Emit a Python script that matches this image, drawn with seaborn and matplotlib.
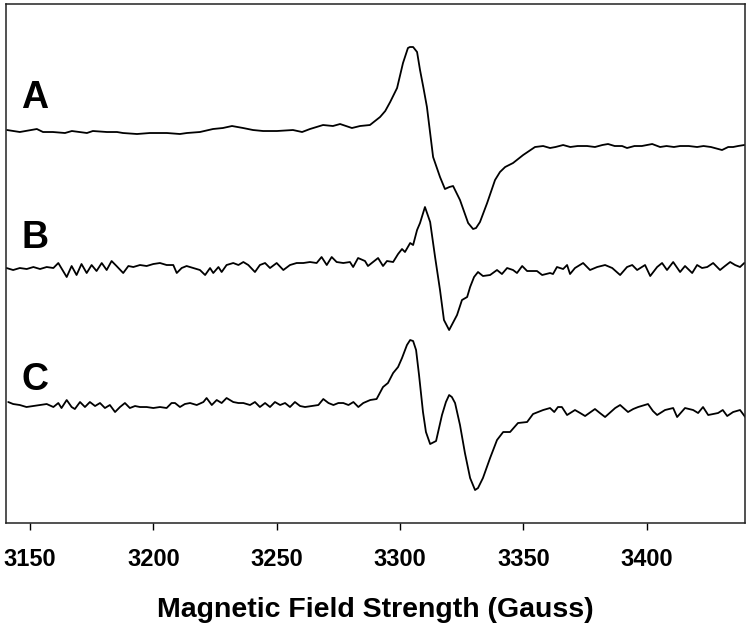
import matplotlib
matplotlib.use('Agg')
import matplotlib.pyplot as plt
import seaborn as sns
import pandas as pd

# EPR spectra: field (G) and signal (arbitrary units, 0 = own baseline)
field_a = [3140.7, 3145.9, 3152.8, 3155.3, 3159.3, 3164.2, 3167.0, 3173.1, 3175.5, 3181.2,
           3185.3, 3187.7, 3193.4, 3198.6, 3205.5, 3210.8, 3213.6, 3218.9, 3224.2, 3228.2,
           3231.9, 3236.4, 3240.4, 3244.5, 3250.1, 3256.6, 3260.3, 3263.5, 3268.8, 3272.8,
           3275.7, 3280.5, 3283.8, 3287.8, 3291.9, 3294.0, 3296.0, 3298.8, 3301.2, 3303.2,
           3304.0, 3305.3, 3306.9, 3308.1, 3309.5, 3310.9, 3313.4, 3316.2, 3318.2, 3320.0,
           3321.5, 3324.3, 3327.6, 3329.6, 3330.8, 3332.4, 3335.3, 3338.5, 3340.5, 3342.6,
           3345.8, 3349.9, 3354.7, 3358.0, 3360.8, 3363.0, 3366.1,
           3369.0, 3372.0, 3375.8, 3379.0, 3382.0, 3384.3, 3387.0, 3390.0, 3392.0, 3395.0,
           3398.0, 3402.2, 3405.4, 3408.0, 3411.0, 3413.5, 3417.0, 3420.4, 3423.0, 3426.0,
           3430.5, 3433.0, 3435.0, 3437.0, 3439.5]
signal_a = [0, -2, 1, -2, -2, -3, -1, -3, -1, -2,
            -2, -3, -4, -3, -3, -4, -3, -2, 1, 2,
            4, 2, 0, -1, -1, 0, -2, 1, 5, 4,
            6, 2, 4, 5, 13, 19, 28, 42, 67, 82,
            83, 83, 78, 60, 42, 23, -27, -47, -59, -57,
            -56, -70, -93, -99, -98, -92, -73, -50, -42, -37,
            -33, -25, -17, -16, -18, -17, -15,
            -17, -16, -16, -17, -15, -14, -16, -16, -18, -16,
            -16, -14, -17, -16, -17, -16, -16, -17, -16, -17,
            -20, -17, -17, -16, -15]

field_b = [3140.5, 3143.2, 3145.9, 3148.7, 3151.4, 3154.1, 3156.8, 3159.5, 3161.5, 3164.9,
           3166.9, 3168.9, 3170.9, 3173.0, 3175.0, 3177.0, 3179.1, 3181.1, 3183.1, 3185.1,
           3187.8, 3189.9, 3191.9, 3194.6, 3197.3, 3200.0, 3202.7, 3205.4, 3208.1, 3209.5,
           3211.5, 3213.5, 3216.2, 3218.9, 3221.0, 3223.0, 3224.3, 3226.4, 3227.7, 3229.7,
           3232.4, 3234.5, 3236.5, 3238.5, 3241.2, 3243.2, 3245.3, 3247.3, 3250.0, 3252.7,
           3255.4, 3258.1, 3260.8, 3263.5, 3266.2, 3268.2, 3270.3, 3272.3, 3274.3, 3277.0,
           3279.7, 3281.0, 3283.0, 3285.8, 3287.0, 3291.1, 3293.1, 3294.7, 3297.2, 3299.2,
           3300.8, 3302.0, 3304.1, 3305.3, 3306.9, 3308.1, 3310.1, 3312.2, 3314.2, 3316.2,
           3317.8, 3319.9, 3323.1, 3325.1, 3327.2, 3328.4, 3330.0, 3331.6, 3333.6, 3336.5,
           3339.3, 3341.3, 3343.4, 3345.8, 3347.4, 3349.5, 3351.5, 3355.5, 3357.6, 3360.8,
           3362.0, 3363.6, 3366.1, 3367.7, 3368.9, 3370.9, 3374.2, 3377.0, 3379.9, 3383.1,
           3386.0, 3389.2, 3392.0, 3394.1, 3396.1, 3399.3, 3401.4, 3404.2, 3406.2, 3408.2,
           3410.7, 3413.5, 3415.5, 3418.4, 3420.4, 3422.4, 3424.5, 3426.9, 3429.7, 3431.7,
           3433.8, 3435.8, 3437.8, 3439.5]
signal_b = [0, -2, 0, -1, 1, -1, 1, 0, 5, -9,
            2, -7, 4, -5, 3, -3, 5, -2, 7, 2,
            -5, 2, 1, 3, 2, 4, 5, 3, 3, -5,
            0, 2, 0, -2, -7, 0, -5, 1, -4, 3,
            5, 3, 6, 3, -4, 3, 5, 0, 5, -2,
            3, 5, 5, 6, 5, 11, 3, 11, 6, 5,
            6, 1, 10, 7, 2, 10, 2, 7, 6, 14,
            19, 16, 25, 23, 38, 45, 61, 46, 11, -22,
            -52, -62, -47, -32, -29, -19, -9, -4, -8, -7,
            -2, -6, 0, -2, -5, 2, -3, -3, -7, -5,
            -6, 1, -1, 3, -6, 0, 5, -2, 1, 3,
            0, -7, 1, 3, -2, 3, -8, 1, 5, -2,
            6, -4, 2, -5, 3, 0, 1, 5, -2, 2,
            6, 3, 1, 5]

field_c = [3141.2, 3143.2, 3145.9, 3148.6, 3151.4, 3154.1, 3156.8, 3159.5, 3161.5, 3162.8,
           3164.9, 3166.9, 3168.2, 3170.3, 3172.3, 3174.3, 3176.4, 3178.4, 3180.4, 3182.4,
           3184.5, 3186.5, 3188.5, 3190.5, 3192.6, 3194.6, 3197.3, 3200.0, 3202.7, 3205.4,
           3207.4, 3208.8, 3210.8, 3212.8, 3214.9, 3217.6, 3220.3, 3221.6, 3223.7, 3225.7,
           3227.7, 3229.7, 3232.4, 3234.5, 3236.5, 3239.2, 3241.2, 3243.2, 3245.3, 3247.3,
           3249.3, 3251.4, 3253.4, 3255.4, 3257.4, 3259.5, 3261.5, 3264.2, 3266.9, 3268.9,
           3271.0, 3273.0, 3275.0, 3277.0, 3279.1, 3281.1, 3283.1, 3285.1, 3287.9, 3290.5,
           3293.1, 3295.1, 3297.2, 3299.2, 3300.8, 3302.8, 3304.1, 3305.3, 3306.5, 3307.7,
           3309.3, 3310.5, 3312.2, 3314.6, 3317.0, 3318.6, 3319.9, 3321.0, 3322.3, 3324.3,
           3326.3, 3328.4, 3330.4, 3331.6, 3333.6, 3336.5, 3339.3, 3341.8, 3344.6, 3347.8,
           3351.5, 3353.9, 3358.0, 3360.8, 3362.5, 3364.0, 3365.6, 3367.7, 3370.9, 3373.0,
           3375.0, 3379.0, 3381.0, 3383.1, 3387.2, 3389.2, 3392.4, 3394.5, 3396.5, 3400.5,
           3402.5, 3404.2, 3407.4, 3410.7, 3412.3, 3415.5, 3418.8, 3420.8, 3422.8, 3424.9,
           3428.9, 3430.8, 3432.6, 3435.0, 3437.8, 3439.9]
signal_c = [6, 4, 3, 1, 2, 3, 4, 1, 5, 0,
            8, 1, -1, 6, 1, 6, 2, 5, 0, 3,
            -4, 1, 5, 0, 2, 1, 1, 0, 1, 0,
            5, 5, 1, 4, 5, 3, 6, 10, 3, 8,
            5, 10, 6, 5, 5, 3, 6, 1, 5, 1,
            6, 3, 5, 1, 6, 2, 1, 2, 3, 9,
            5, 3, 5, 5, 3, 6, 1, 5, 8, 9,
            21, 25, 35, 41, 50, 63, 68, 67, 58, 33,
            -4, -24, -36, -33, -7, 6, 13, 11, 5, -17,
            -45, -70, -82, -80, -70, -50, -32, -24, -24, -15,
            -14, -6, -2, 0, -4, 1, 1, -7, -2, -5,
            -8, -1, -5, -9, 0, 3, -4, -1, 1, 4,
            -3, -7, -2, 0, -9, 0, -2, -5, 1, -7,
            -5, -2, -8, -4, -2, -9]

labels = ['A', 'B', 'C']
xticks = [3150, 3200, 3250, 3300, 3350, 3400]

sns.set_style('ticks')
plt.rcParams['font.family'] = ['Liberation Sans', 'DejaVu Sans']
plt.rcParams['text.color'] = 'black'
plt.rcParams['axes.labelcolor'] = 'black'
plt.rcParams['xtick.color'] = 'black'

fig = plt.figure(figsize=(7.5, 6.26), dpi=100)
ax = fig.add_axes([0.008, 0.1653, 0.9853, 0.8283])

offsets = [392.5, 254.5, 114.5]
traces = [(field_a, signal_a), (field_b, signal_b), (field_c, signal_c)]
for (fx, sy), off in zip(traces, offsets):
    df = pd.DataFrame({'field': fx, 'signal': [v + off for v in sy]})
    sns.lineplot(data=df, x='field', y='signal', ax=ax, color='black',
                 linewidth=1.3, estimator=None, sort=False)

# trace letters
for lab, yb in zip(labels, [0.799, 0.529, 0.2556]):
    ax.text(0.021, yb, lab, transform=ax.transAxes, fontsize=27,
            fontweight='bold', va='baseline', ha='left', color='black')

ax.set_xlim(3140.3, 3439.8)
ax.set_ylim(0, 518.5)
ax.set_xticks(xticks)
ax.set_xticklabels([str(t) for t in xticks], fontweight='bold')
ax.set_yticks([])
ax.set_ylabel('')
ax.set_xlabel('Magnetic Field Strength (Gauss)', fontsize=20.5, fontweight='bold',
              labelpad=19, color='black')
ax.tick_params(axis='x', direction='out', length=5, width=1, pad=13, labelsize=17,
               colors='black')

for sp in ax.spines.values():
    sp.set_visible(True)
    sp.set_linewidth(1.1)
    sp.set_color('#222222')

fig.savefig('out.png', dpi=100)
